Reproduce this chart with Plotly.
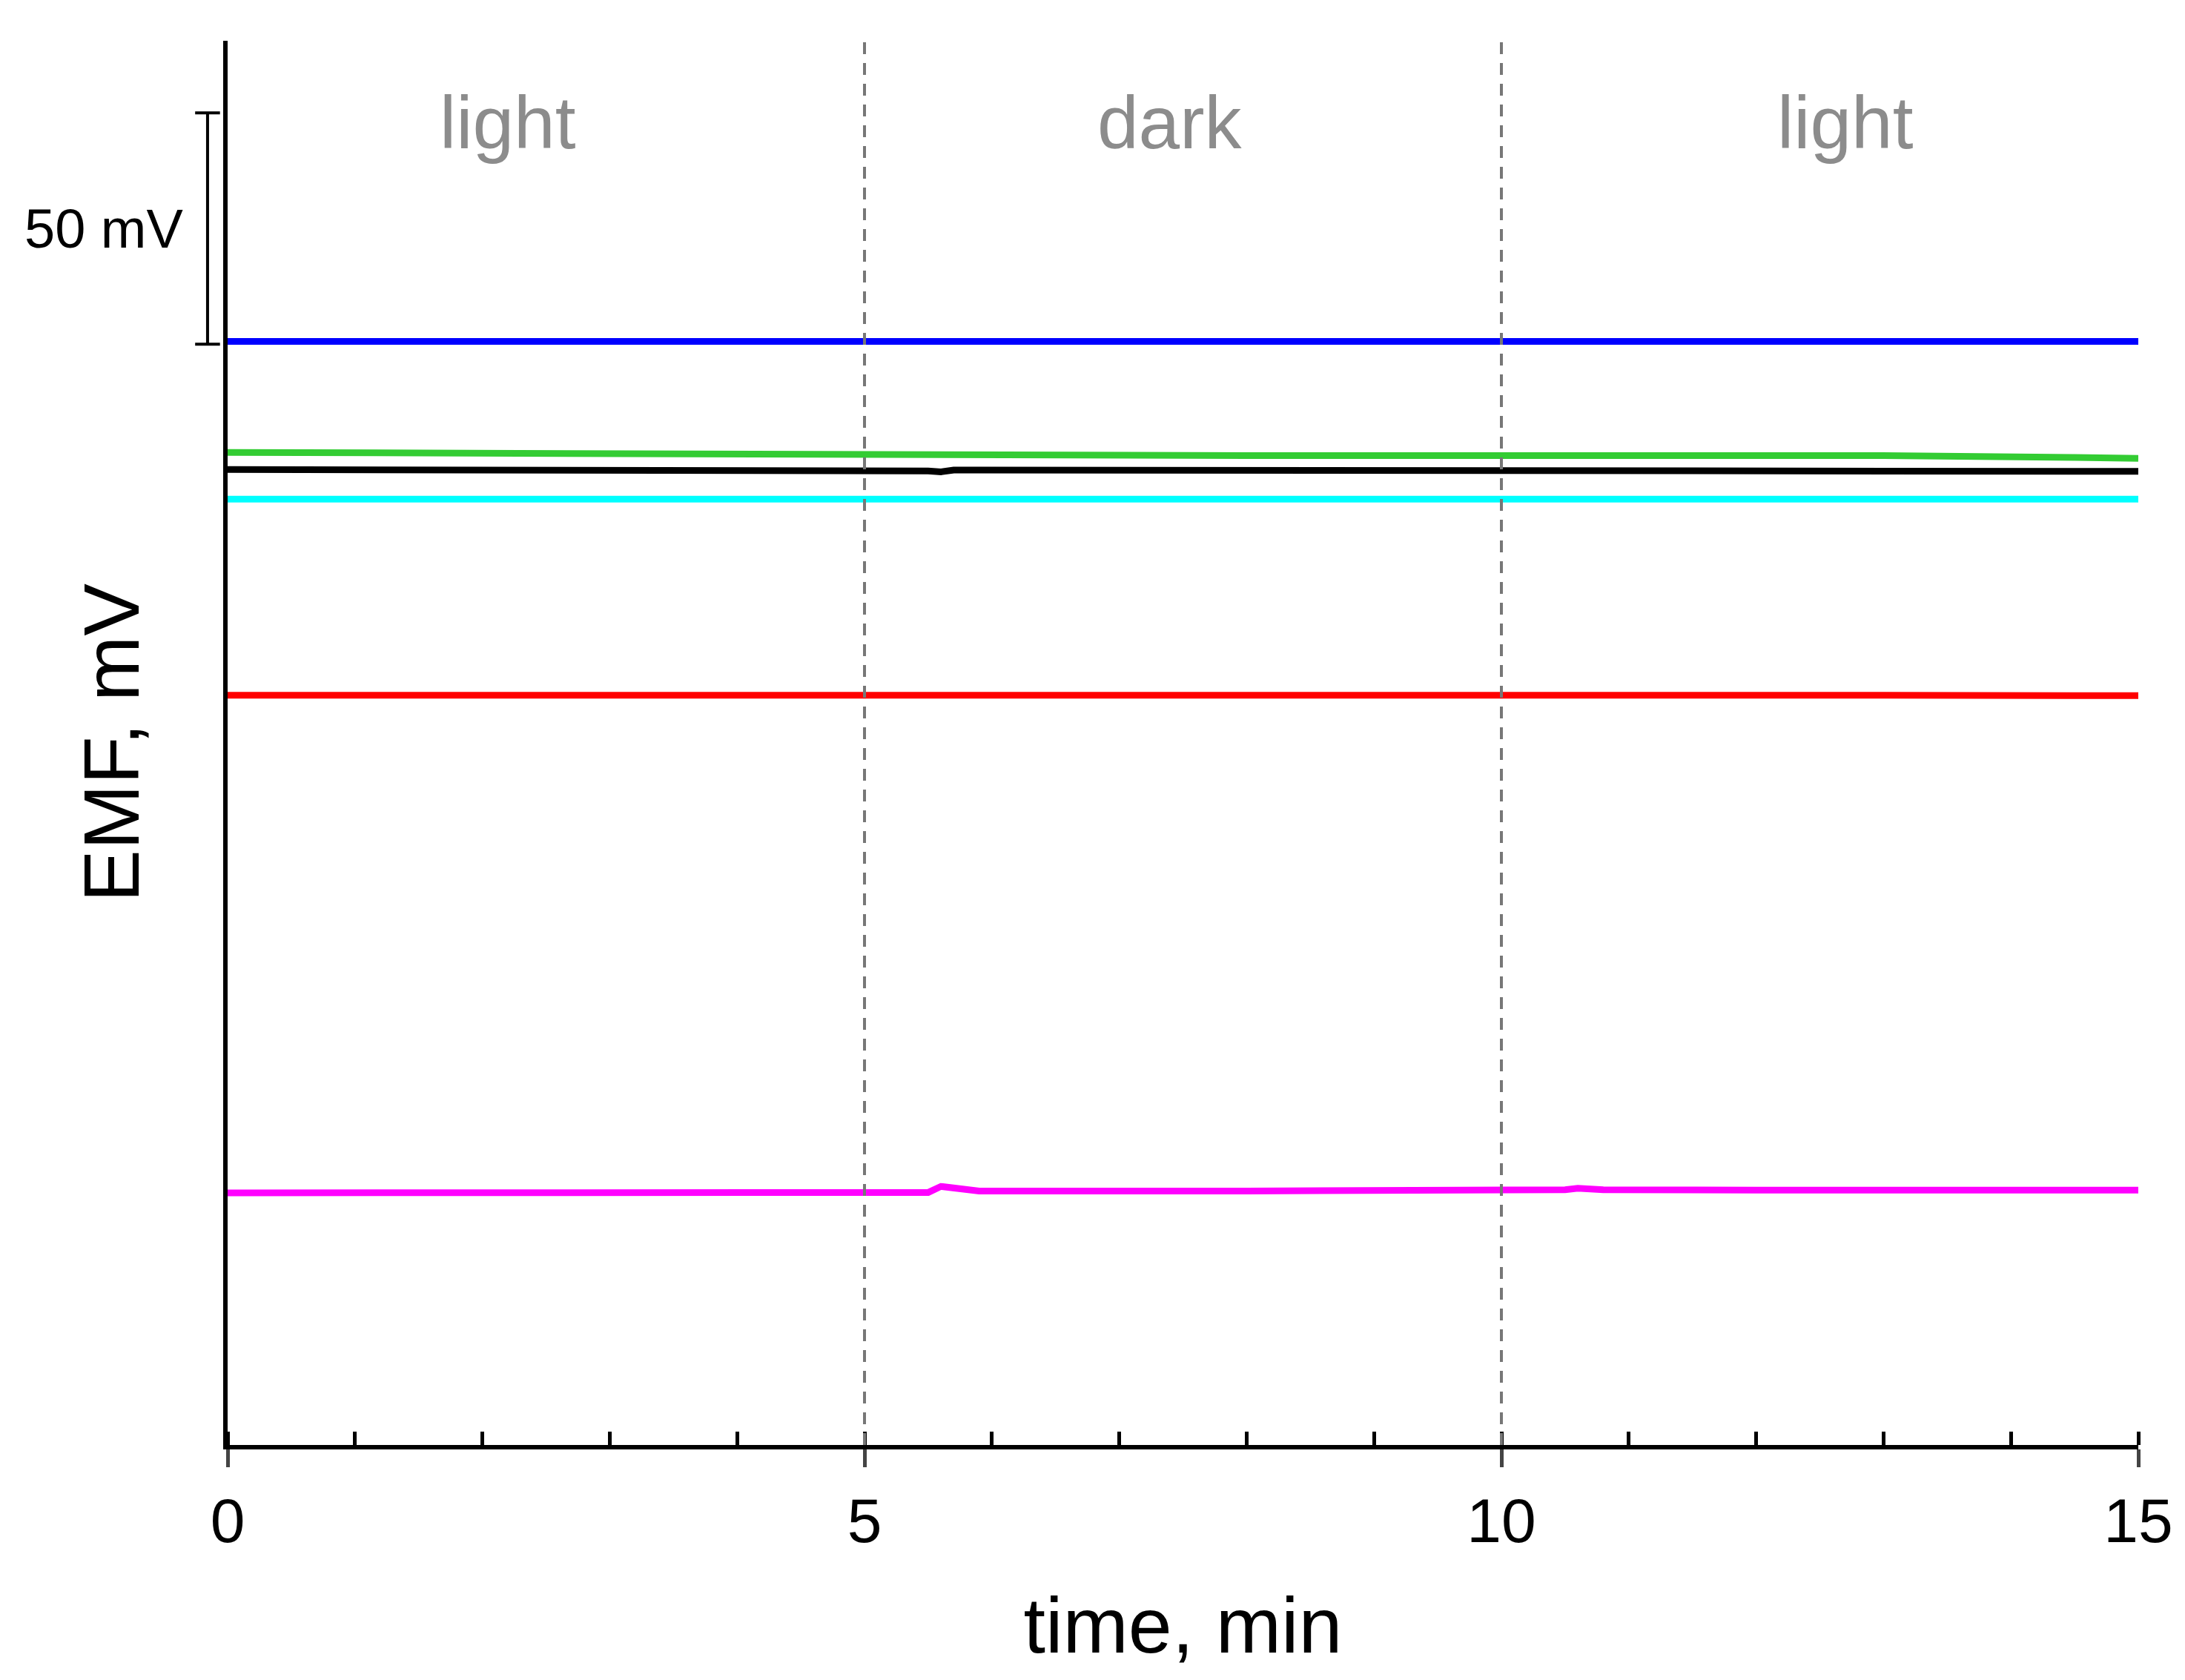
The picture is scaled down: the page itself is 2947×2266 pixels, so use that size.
import plotly.graph_objects as go

time_min = [0, 2.5, 5.0, 5.5, 5.6, 5.7, 5.9, 8, 10.0, 10.5, 10.6, 10.8, 12, 13, 14.5, 15]
blue    = [238.6, 238.6, 238.6, 238.6, 238.6, 238.6, 238.8, 238.6, 238.6, 238.6, 238.6, 238.6, 238.6, 238.6, 238.6, 238.6]
green   = [214.6, 214.4, 214.0, 213.9, 213.8, 214.0, 213.9, 213.9, 213.9, 213.9, 213.9, 213.9, 213.9, 213.9, 213.5, 213.3]
black   = [210.9, 210.9, 210.8, 210.6, 210.4, 210.8, 210.8, 210.8, 210.8, 210.8, 210.8, 210.8, 210.6, 210.6, 210.5, 210.5]
cyan    = [204.5, 204.5, 204.5, 204.5, 204.5, 204.5, 204.5, 204.5, 204.5, 204.5, 204.5, 204.5, 204.5, 204.5, 204.5, 204.5]
red     = [162.1, 162.1, 162.1, 162.1, 162.1, 162.4, 162.1, 162.1, 162.1, 162.1, 162.1, 162.1, 162.1, 162.1, 162.0, 162.0]
magenta = [54.5, 54.5, 54.5, 54.6, 55.9, 55.6, 54.9, 54.9, 55.0, 55.2, 55.5, 55.2, 55.1, 55.1, 55.1, 55.1]

series = [("black", black), ("green", green), ("cyan", cyan), ("red", red), ("magenta", magenta), ("blue", blue)]
colors = {"black": "#000000", "green": "#33CC33", "cyan": "#00FFFF", "red": "#FF0000",
          "magenta": "#FF00FF", "blue": "#0000FF"}

phase_labels = ["light", "dark", "light"]
phase_centers = [2.2, 7.4, 12.7]
phase_bounds = [5, 10]
scale_bar = [238, 288]

fig = go.Figure()
for name, vals in series:
    fig.add_trace(go.Scatter(x=time_min, y=vals, mode="lines", name=name,
                             line=dict(color=colors[name], width=9), showlegend=False))

for b in phase_bounds:
    fig.add_shape(type="line", x0=b, x1=b, yref="paper", y0=0, y1=1,
                  line=dict(color="#777777", width=4, dash="16px,12px"))
for lab, c in zip(phase_labels, phase_centers):
    fig.add_annotation(x=c, y=286, text=lab, showarrow=False,
                       font=dict(size=100, color="#8c8c8c", family="Liberation Sans"))

# 50 mV scale bar
fig.add_shape(type="line", xref="paper", x0=-0.0105, x1=-0.0105, y0=scale_bar[0], y1=scale_bar[1],
              line=dict(color="black", width=4))
for yv in scale_bar:
    fig.add_shape(type="line", xref="paper", x0=-0.017, x1=-0.004, y0=yv, y1=yv,
                  line=dict(color="black", width=4))
fig.add_annotation(xref="paper", x=-0.022, y=263, xanchor="right", text="50 mV", showarrow=False,
                   font=dict(size=74, color="black", family="Liberation Sans"))

fig.update_layout(
    width=2947, height=2266, plot_bgcolor="white", paper_bgcolor="white",
    margin=dict(l=299, r=71, t=47, b=325),
    font=dict(family="Liberation Sans", color="black"),
    xaxis=dict(range=[0, 15], tickvals=[0, 5, 10, 15], ticks="outside", ticklen=24, tickwidth=5,
               showline=True, linecolor="black", linewidth=6, showgrid=False, zeroline=False,
               tickfont=dict(size=84), title=dict(text="time, min", font=dict(size=106), standoff=60),
               minor=dict(dtick=1, ticks="inside", ticklen=18, tickwidth=5, tickcolor="black")),
    yaxis=dict(range=[0, 303.6], showticklabels=False, ticks="", showline=True, linecolor="black",
               linewidth=6, showgrid=False, zeroline=False,
               title=dict(text="EMF, mV", font=dict(size=106), standoff=80)),
)
fig.write_html("out.html")
